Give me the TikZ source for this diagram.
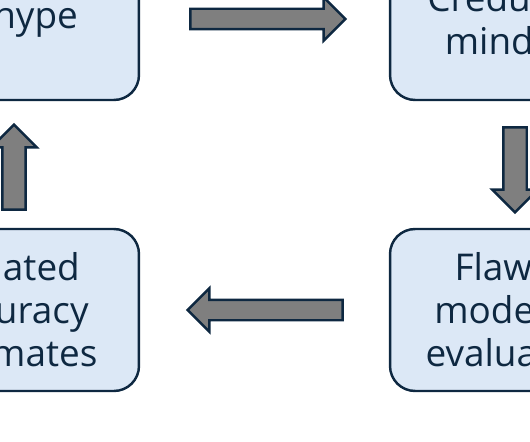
\documentclass[tikz,border=0pt]{standalone}
\usepackage{fontspec}
\setmainfont{Open Sans}
\usepackage{tikz}
\usetikzlibrary{arrows.meta,positioning,calc,shapes.arrows}
\definecolor{cnavy}{HTML}{0E2841}
\definecolor{cboxlt}{HTML}{DCE8F6}
\definecolor{carrow}{HTML}{7F7F7F}
\tikzset{
  stagebox/.style  = {draw=cnavy, line width=1.4pt, fill=cboxlt,
                      rounded corners=0.5cm, minimum width=5cm,
                      minimum height=3.24cm, align=center, text=cnavy,
                      font=\fontsize{21}{24.5}\selectfont},
  blockarr/.style  = {single arrow, draw=cnavy, line width=1.4pt,
                      fill=carrow, inner xsep=0pt, minimum width=0pt,
                      single arrow tip angle=90, anchor=tail},
  harr/.style      = {blockarr, minimum height=3.1cm, inner ysep=0.18cm,
                      single arrow head extend=0.23cm},
  varr/.style      = {blockarr, minimum height=1.7cm, inner ysep=0.21cm,
                      single arrow head extend=0.22cm},
}

\begin{document}
\begin{tikzpicture}[x=0.02cm,y=-0.02cm]
  \useasboundingbox (0,0) rectangle (530,442);
  \clip (0,0) rectangle (530,442);
  % the four stages of the cycle
  \node[stagebox] (hype)   at (14,19)   {AI hype};
  \node[stagebox] (cred)   at (515,19)  {Credulous\\mindset};
  \node[stagebox] (flawed) at (515,310) {Flawed\\modeling\\evaluation};
  \node[stagebox] (infl)   at (14,310)  {Inflated\\accuracy\\estimates};
  % block arrows between them
  \node[harr]             (a1) at ($(hype.east)+(49,0)$)     {};
  \node[varr, rotate=-90] (a2) at ($(cred.south)+(0,25)$)    {};
  \node[harr, rotate=180] (a3) at ($(flawed.west)+(-45,0)$)  {};
  \node[varr, rotate=90]  (a4) at ($(infl.north)+(0,-17)$)   {};
\end{tikzpicture}
\end{document}
